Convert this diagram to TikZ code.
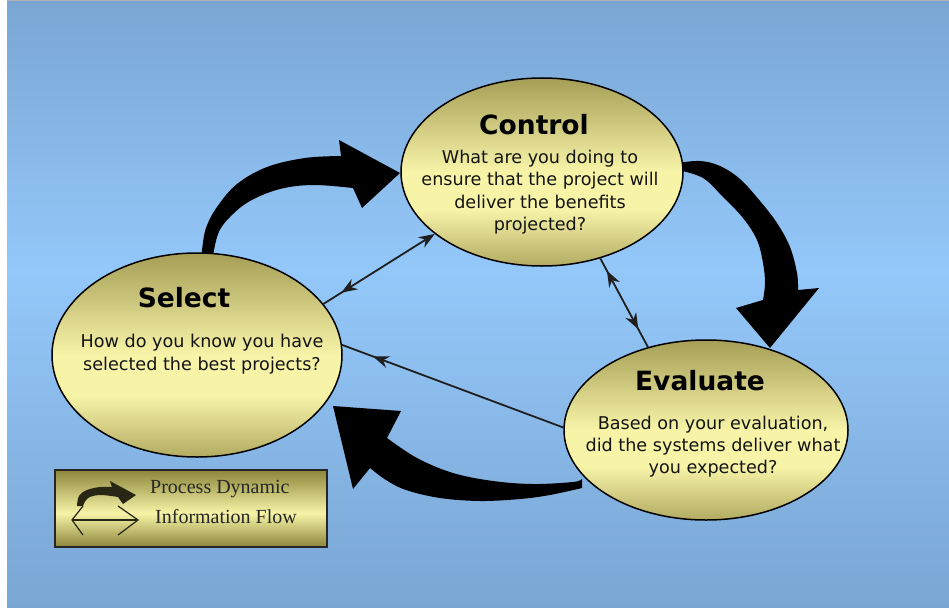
\documentclass[tikz,border=0pt]{standalone}
\usepackage{fontspec}
\setmainfont{DejaVu Sans}
\newfontfamily\legfont{Liberation Serif}
\usetikzlibrary{shapes.geometric,arrows.meta,decorations.markings}
\definecolor{bgtop}{RGB}{122,166,211}
\definecolor{bgmid}{RGB}{148,200,250}
\definecolor{eltop}{RGB}{166,158,86}
\definecolor{elmid}{RGB}{247,244,168}
\definecolor{elbot}{RGB}{178,171,98}
\definecolor{legdark}{RGB}{140,134,58}
\definecolor{iconcol}{RGB}{40,38,20}
\pgfdeclareverticalshading{bgshade}{100bp}{color(0bp)=(bgtop); color(25bp)=(bgtop); color(52.75bp)=(bgmid); color(75bp)=(bgtop); color(100bp)=(bgtop)}
\pgfdeclareverticalshading{elshade}{100bp}{color(0bp)=(elbot); color(25bp)=(elbot); color(40bp)=(elmid); color(50bp)=(elmid); color(75bp)=(eltop); color(100bp)=(eltop)}
\pgfdeclareverticalshading{legshade}{100bp}{color(0bp)=(legdark); color(25bp)=(legdark); color(47bp)=(elmid); color(75bp)=(legdark); color(100bp)=(legdark)}
\tikzset{
  ell/.style={ellipse, draw=black, line width=1.5pt, shade, shading=elshade, inner sep=0pt},
  titletext/.style={anchor=base, inner sep=0pt, font=\fontsize{26.5}{30}\selectfont\bfseries, text=black},
  bodytext/.style={anchor=base, inner sep=0pt, text=black!92},
  fatarrow/.style={fill=black},
  thinline/.style={draw=black!88, line width=1.8pt},
  tipA/.tip={Stealth[length=16pt,width=12pt]},
  legtext/.style={anchor=base west, inner sep=0pt, font=\legfont\fontsize{20}{24}\selectfont, text=black!85},
  legline/.style={draw=iconcol, line width=1.2pt}
}
\begin{document}
\begin{tikzpicture}[x=1pt,y=-1pt]
\useasboundingbox (0,0) rectangle (949,607);
% background
\fill[white] (0,0) rectangle (949,607);
\path[shade, shading=bgshade] (7,1.5) rectangle (949,607);
\draw[black!30, line width=1.2pt] (7,0.6) -- (949,0.6);

% fat process arrows (under the ellipses)
\fill[fatarrow] plot[smooth,tension=0.6] coordinates {(201,262) (202,250) (206,228) (217,207) (237,184) (267,167) (305,158) (341,156)}
  -- (339,140) -- (400,173) -- (362,208)
  -- plot[smooth,tension=0.6] coordinates {(353,188) (313,185) (280,189) (250,201) (230,217) (218,234) (212,262)} -- cycle;
\fill[fatarrow] plot[smooth,tension=0.6] coordinates {(678,163) (700,161) (720,166) (740,179) (760,201) (777,223) (790,247) (797,273) (798,290)}
  -- (819,288) -- (770,348) -- (736,308)
  -- plot[smooth,tension=0.6] coordinates {(763,300) (765,283) (763,263) (757,240) (743,218) (723,197) (703,178) (678,170)} -- cycle;
\fill[fatarrow] plot[smooth,tension=0.6] coordinates {(582,479) (573,482) (533,484) (493,481) (453,473) (417,458) (387,438)}
  -- (401,411) -- (333,406) -- (353,489)
  -- plot[smooth,tension=0.6] coordinates {(370,468) (386,480) (406,490) (440,498) (480,501) (520,499) (550,495) (582,488)} -- cycle;

% ellipses
\node[ell, minimum width=282pt, minimum height=188pt] (ctl) at (542,172) {};
\node[ell, minimum width=290pt, minimum height=204pt] (sel) at (197,355) {};
\node[ell, minimum width=284pt, minimum height=180pt] (eva) at (706,430) {};

% information flow arrows
\draw[thinline, tipA-, postaction={decorate},
  decoration={markings, mark=at position 0.84 with {\arrow{tipA}}}] (ctl.210) -- (sel.22);
\draw[thinline, postaction={decorate},
  decoration={markings, mark=at position 0.14 with {\arrowreversed{tipA}}, mark=at position 0.8 with {\arrow{tipA}}}] (ctl.304) -- (eva.125);
\draw[thinline, postaction={decorate},
  decoration={markings, mark=at position 0.86 with {\arrow{tipA}}}] (eva.179) -- (sel.4);

% texts
\node[titletext] (ctlT) at (534,134) {Control};
\node[bodytext] (ctlB) at (540,163) {\fontsize{17.6}{22.5}\selectfont\begin{tabular}[t]{@{}c@{}}What are you doing to\\ensure that the project will\\deliver the benefits\\projected?\end{tabular}};
\node[titletext] (selT) at (184,307) {Select};
\node[bodytext] (selB) at (202,347) {\fontsize{17.6}{23}\selectfont\begin{tabular}[t]{@{}c@{}}How do you know you have\\selected the best projects?\end{tabular}};
\node[titletext] (evaT) at (700,390) {Evaluate};
\node[bodytext] (evaB) at (713,429) {\fontsize{17.6}{22}\selectfont\begin{tabular}[t]{@{}c@{}}Based on your evaluation,\\did the systems deliver what\\you expected?\end{tabular}};

% legend
\node[draw=black!85, line width=1.4pt, shade, shading=legshade, minimum width=272pt, minimum height=77pt, inner sep=0pt] (leg) at (191,508.5) {};
\fill[iconcol] plot[smooth,tension=0.6] coordinates {(77,506) (79,496) (87,490) (100,487) (112,487)}
  -- (110,481) -- (136,495) -- (123,504)
  -- plot[smooth,tension=0.6] coordinates {(118,497) (100,495) (88,498) (83,506)} -- cycle;
\draw[legline] (72,520) -- (138,520);
\draw[legline] (83,506) -- (72,520) -- (83,535);
\draw[legline] (118,506) -- (138,520) -- (118,535);
\node[legtext] (legA) at (150,493) {Process Dynamic};
\node[legtext] (legB) at (155,523) {Information Flow};
\end{tikzpicture}
\end{document}
